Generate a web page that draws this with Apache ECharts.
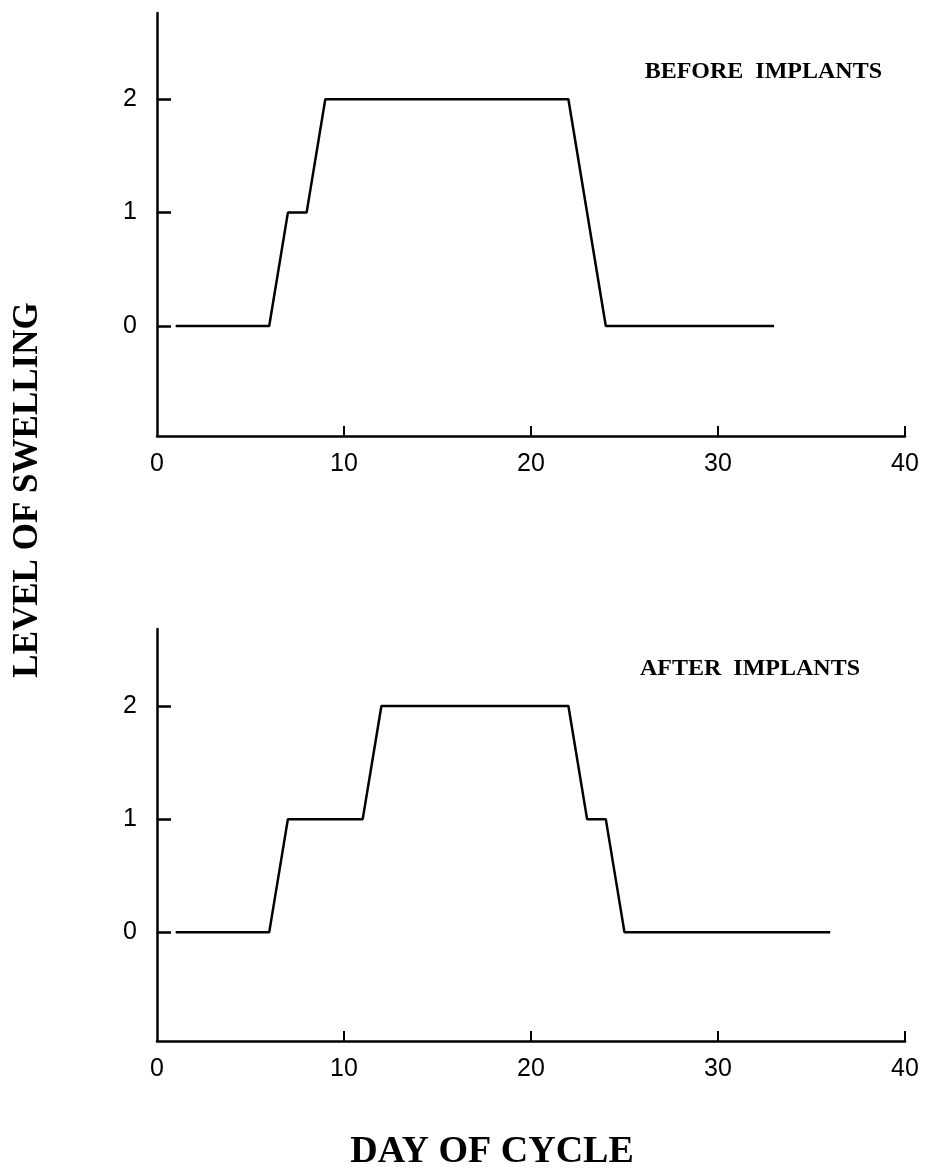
<!DOCTYPE html>
<html>
<head>
<meta charset="utf-8">
<script src="https://cdn.jsdelivr.net/npm/echarts@6/dist/echarts.min.js"></script>
<style>
  html, body { margin: 0; padding: 0; background: #fff; }
  #main { width: 925px; height: 1171px; }
</style>
</head>
<body>
<div id="main"></div>
<script>
// before implants: [day, level]
var beforeDays = [1, 6, 7, 8, 9, 22, 24, 33];
var beforeLevel = [0, 0, 1, 1, 2, 2, 0, 0];
// after implants
var afterDays = [1, 6, 7, 11, 12, 22, 23, 24, 25, 36];
var afterLevel = [0, 0, 1, 1, 2, 2, 1, 1, 0, 0];

var xTicks = [0, 10, 20, 30, 40];
var yTicks = [0, 1, 2];

function pairs(xs, ys) {
  var out = [];
  for (var i = 0; i < xs.length; i++) out.push([xs[i], ys[i]]);
  return out;
}

var chart = echarts.init(document.getElementById('main'), null, { renderer: 'canvas' });

var sansFont = '"Liberation Sans", Arial, sans-serif';
var serifFont = '"Liberation Serif", "Times New Roman", serif';

function xAxisFor(idx) {
  return {
    gridIndex: idx,
    type: 'value',
    min: 0,
    max: 40,
    interval: 10,
    axisLine: { show: true, onZero: false, lineStyle: { color: '#000', width: 2.5 } },
    axisTick: { show: true, inside: true, length: 10, customValues: xTicks.slice(1), lineStyle: { color: '#000', width: 2 } },
    axisLabel: { color: '#000', fontSize: 25, fontFamily: sansFont, margin: 16, customValues: xTicks },
    splitLine: { show: false }
  };
}

function yAxisFor(idx, lo, hi) {
  return {
    gridIndex: idx,
    type: 'value',
    min: lo,
    max: hi,
    axisLine: { show: true, onZero: false, lineStyle: { color: '#000', width: 2.5 } },
    axisTick: { show: true, inside: true, length: 14, customValues: yTicks, lineStyle: { color: '#000', width: 2.5 } },
    axisLabel: { color: '#000', fontSize: 25, fontFamily: sansFont, margin: 20, customValues: yTicks },
    splitLine: { show: false }
  };
}

var option = {
  backgroundColor: '#fff',
  animation: false,
  grid: [
    { left: 157, top: 13, width: 748, height: 423 },
    { left: 157, top: 629, width: 748, height: 412 }
  ],
  xAxis: [xAxisFor(0), xAxisFor(1)],
  yAxis: [yAxisFor(0, -0.97, 2.76), yAxisFor(1, -0.96, 2.68)],
  title: [
    {
      text: 'BEFORE  IMPLANTS',
      right: 38, top: 55,
      textStyle: { fontFamily: serifFont, fontWeight: 'bold', fontSize: 24, color: '#000' }
    },
    {
      text: 'AFTER  IMPLANTS',
      right: 60, top: 652,
      textStyle: { fontFamily: serifFont, fontWeight: 'bold', fontSize: 24, color: '#000' }
    }
  ],
  graphic: [
    {
      type: 'text',
      x: 28, y: 490,
      rotation: Math.PI / 2,
      style: {
        text: 'LEVEL OF SWELLING',
        align: 'center', verticalAlign: 'middle',
        font: 'bold 35px ' + serifFont,
        fill: '#000'
      }
    },
    {
      type: 'text',
      x: 492, y: 1152,
      style: {
        text: 'DAY OF CYCLE',
        align: 'center', verticalAlign: 'middle',
        font: 'bold 38px ' + serifFont,
        fill: '#000'
      }
    }
  ],
  series: [
    {
      name: 'BEFORE IMPLANTS',
      type: 'line',
      xAxisIndex: 0, yAxisIndex: 0,
      symbol: 'none',
      lineStyle: { color: '#000', width: 2.5 },
      data: pairs(beforeDays, beforeLevel)
    },
    {
      name: 'AFTER IMPLANTS',
      type: 'line',
      xAxisIndex: 1, yAxisIndex: 1,
      symbol: 'none',
      lineStyle: { color: '#000', width: 2.5 },
      data: pairs(afterDays, afterLevel)
    }
  ]
};

chart.setOption(option);
</script>
</body>
</html>
